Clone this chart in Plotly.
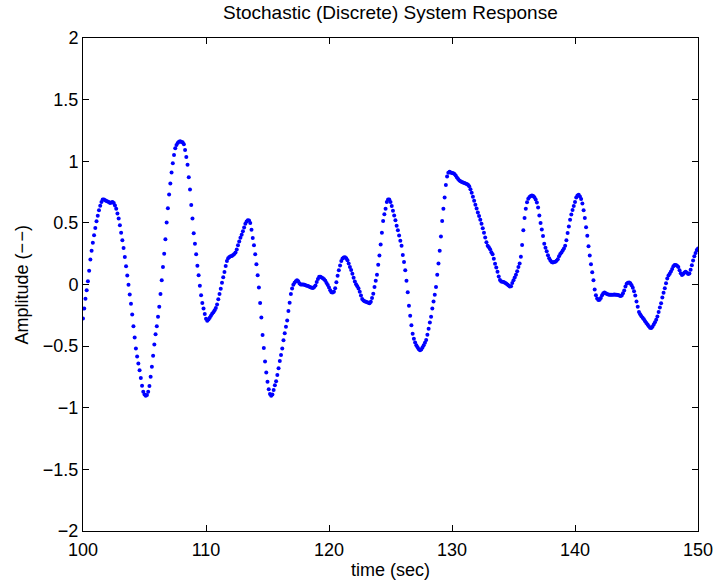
import plotly.graph_objects as go

# Sampling of the discrete response (seconds)
t_start = 100.0
dt = 0.1

# Amplitude samples, one list per 10-second span
amp_100_110 = [
    -0.276, -0.195, -0.116, -0.046, 0.027, 0.111, 0.203, 0.273, 0.338, 0.400,
    0.459, 0.514, 0.557, 0.603, 0.638, 0.670, 0.689, 0.689, 0.684, 0.678,
    0.673, 0.670, 0.662, 0.665, 0.670, 0.662, 0.641, 0.614, 0.576, 0.535,
    0.481, 0.419, 0.359, 0.297, 0.224, 0.149, 0.073, -0.003, -0.081, -0.157,
    -0.243, -0.338, -0.430, -0.519, -0.584, -0.641, -0.695, -0.759, -0.822, -0.870,
    -0.892, -0.903, -0.897, -0.870, -0.824, -0.749, -0.668, -0.578, -0.486, -0.403,
    -0.338, -0.262, -0.181, -0.078, 0.035, 0.141, 0.249, 0.368, 0.503, 0.619,
    0.730, 0.819, 0.908, 0.984, 1.051, 1.105, 1.132, 1.149, 1.159, 1.162,
    1.157, 1.155, 1.138, 1.092, 1.035, 0.972, 0.870, 0.770, 0.645, 0.535,
    0.415, 0.330, 0.245, 0.152, 0.076, -0.010, -0.087, -0.150, -0.195, -0.240,
]
amp_110_120 = [
    -0.278, -0.295, -0.284, -0.270, -0.253, -0.238, -0.225, -0.209, -0.190, -0.163,
    -0.120, -0.078, -0.035, 0.015, 0.058, 0.102, 0.150, 0.190, 0.212, 0.224,
    0.230, 0.232, 0.240, 0.248, 0.259, 0.284, 0.319, 0.348, 0.380, 0.403,
    0.432, 0.462, 0.493, 0.512, 0.521, 0.519, 0.498, 0.445, 0.378, 0.318,
    0.245, 0.165, 0.075, -0.025, -0.150, -0.268, -0.410, -0.515, -0.624, -0.714,
    -0.790, -0.850, -0.888, -0.903, -0.892, -0.855, -0.818, -0.785, -0.735, -0.680,
    -0.620, -0.572, -0.520, -0.453, -0.395, -0.343, -0.292, -0.215, -0.149, -0.078,
    -0.032, -0.003, 0.014, 0.027, 0.035, 0.027, 0.008, 0.001, 0.000, -0.001,
    -0.003, -0.006, -0.010, -0.013, -0.018, -0.023, -0.027, -0.028, -0.020, -0.008,
    0.020, 0.045, 0.062, 0.062, 0.057, 0.051, 0.043, 0.030, 0.013, -0.005,
]
amp_120_130 = [
    -0.025, -0.046, -0.062, -0.065, -0.058, -0.030, 0.018, 0.070, 0.115, 0.155,
    0.190, 0.210, 0.220, 0.222, 0.212, 0.196, 0.170, 0.143, 0.118, 0.088,
    0.055, 0.025, 0.003, -0.015, -0.032, -0.058, -0.090, -0.117, -0.130, -0.136,
    -0.140, -0.145, -0.148, -0.152, -0.140, -0.110, -0.075, -0.020, 0.030, 0.080,
    0.160, 0.235, 0.324, 0.419, 0.515, 0.570, 0.614, 0.670, 0.689, 0.690,
    0.670, 0.636, 0.598, 0.560, 0.521, 0.477, 0.440, 0.397, 0.355, 0.314,
    0.240, 0.182, 0.116, 0.030, -0.063, -0.172, -0.254, -0.330, -0.400, -0.441,
    -0.470, -0.492, -0.509, -0.526, -0.534, -0.528, -0.512, -0.492, -0.472, -0.451,
    -0.407, -0.360, -0.308, -0.262, -0.195, -0.138, -0.084, -0.020, 0.080, 0.170,
    0.273, 0.390, 0.515, 0.615, 0.705, 0.808, 0.876, 0.906, 0.914, 0.908,
]
amp_130_140 = [
    0.905, 0.902, 0.897, 0.884, 0.868, 0.855, 0.844, 0.837, 0.832, 0.827,
    0.824, 0.820, 0.815, 0.809, 0.797, 0.773, 0.744, 0.712, 0.680, 0.648,
    0.616, 0.585, 0.556, 0.525, 0.492, 0.457, 0.420, 0.382, 0.343, 0.314,
    0.302, 0.285, 0.262, 0.245, 0.208, 0.168, 0.138, 0.104, 0.065, 0.037,
    0.024, 0.022, 0.021, 0.014, 0.008, 0.001, -0.009, -0.016, -0.015, 0.012,
    0.035, 0.056, 0.080, 0.108, 0.142, 0.170, 0.225, 0.320, 0.440, 0.540,
    0.615, 0.667, 0.695, 0.710, 0.718, 0.722, 0.718, 0.708, 0.690, 0.665,
    0.624, 0.560, 0.500, 0.446, 0.393, 0.330, 0.298, 0.270, 0.238, 0.213,
    0.195, 0.183, 0.179, 0.182, 0.185, 0.193, 0.205, 0.230, 0.247, 0.260,
    0.275, 0.293, 0.315, 0.360, 0.418, 0.470, 0.525, 0.568, 0.605, 0.637,
]
amp_140_150 = [
    0.670, 0.705, 0.723, 0.728, 0.713, 0.693, 0.657, 0.603, 0.540, 0.465,
    0.395, 0.310, 0.235, 0.165, 0.100, 0.035, -0.040, -0.088, -0.114, -0.126,
    -0.124, -0.110, -0.088, -0.072, -0.065, -0.071, -0.078, -0.082, -0.084, -0.084,
    -0.084, -0.083, -0.081, -0.083, -0.084, -0.085, -0.089, -0.094, -0.090, -0.072,
    -0.048, -0.016, 0.006, 0.014, 0.016, 0.010, -0.006, -0.027, -0.054, -0.090,
    -0.137, -0.180, -0.224, -0.241, -0.257, -0.269, -0.281, -0.299, -0.312, -0.325,
    -0.338, -0.350, -0.353, -0.343, -0.325, -0.306, -0.285, -0.259, -0.224, -0.186,
    -0.152, -0.105, -0.067, -0.030, 0.010, 0.048, 0.073, 0.088, 0.105, 0.125,
    0.148, 0.158, 0.159, 0.153, 0.141, 0.116, 0.091, 0.078, 0.086, 0.097,
    0.104, 0.096, 0.086, 0.090, 0.120, 0.157, 0.195, 0.229, 0.256, 0.280,
    0.292,
]

x_ticks = [100, 110, 120, 130, 140, 150]
y_ticks = [-2, -1.5, -1, -0.5, 0, 0.5, 1, 1.5, 2]

title_text = "Stochastic (Discrete) System Response"
x_label = "time (sec)"
y_label = "Amplitude (\u2212\u200a\u2212)"

amplitude = amp_100_110 + amp_110_120 + amp_120_130 + amp_130_140 + amp_140_150
time = [round(t_start + i * dt, 1) for i in range(len(amplitude))]

FONT = "Liberation Sans, Arial, Helvetica, sans-serif"
FS = 18

fig = go.Figure(
    go.Scatter(
        x=time, y=amplitude, mode="markers",
        marker=dict(color="#0000ff", size=4, line=dict(width=0)),
        hoverinfo="x+y",
    )
)

axis_common = dict(
    showgrid=False, zeroline=False, showline=True, linecolor="black", linewidth=1,
    mirror="ticks", ticks="inside", ticklen=6, tickwidth=1, tickcolor="black",
    tickfont=dict(family=FONT, size=FS, color="black"),
)

fig.update_layout(
    width=725, height=581,
    margin=dict(l=83, r=18, t=38, b=50),
    paper_bgcolor="white", plot_bgcolor="white",
    showlegend=False,
    xaxis=dict(range=[100, 150], tickvals=x_ticks, ticklabelstandoff=2, **axis_common),
    yaxis=dict(range=[-2, 2], tickvals=y_ticks, **axis_common),
    annotations=[
        dict(text=title_text, xref="paper", yref="paper", x=0.5, y=1, yshift=26,
             xanchor="center", yanchor="middle", showarrow=False,
             font=dict(family=FONT, size=FS + 1, color="black")),
        dict(text=x_label, xref="paper", yref="paper", x=0.5, y=0, yshift=-39,
             xanchor="center", yanchor="middle", showarrow=False,
             font=dict(family=FONT, size=FS, color="black")),
        dict(text=y_label, xref="paper", yref="paper", x=0, y=0.5, xshift=-62,
             xanchor="center", yanchor="middle", textangle=-90, showarrow=False,
             font=dict(family=FONT, size=FS, color="black")),
    ],
)

fig.write_html("out.html")
